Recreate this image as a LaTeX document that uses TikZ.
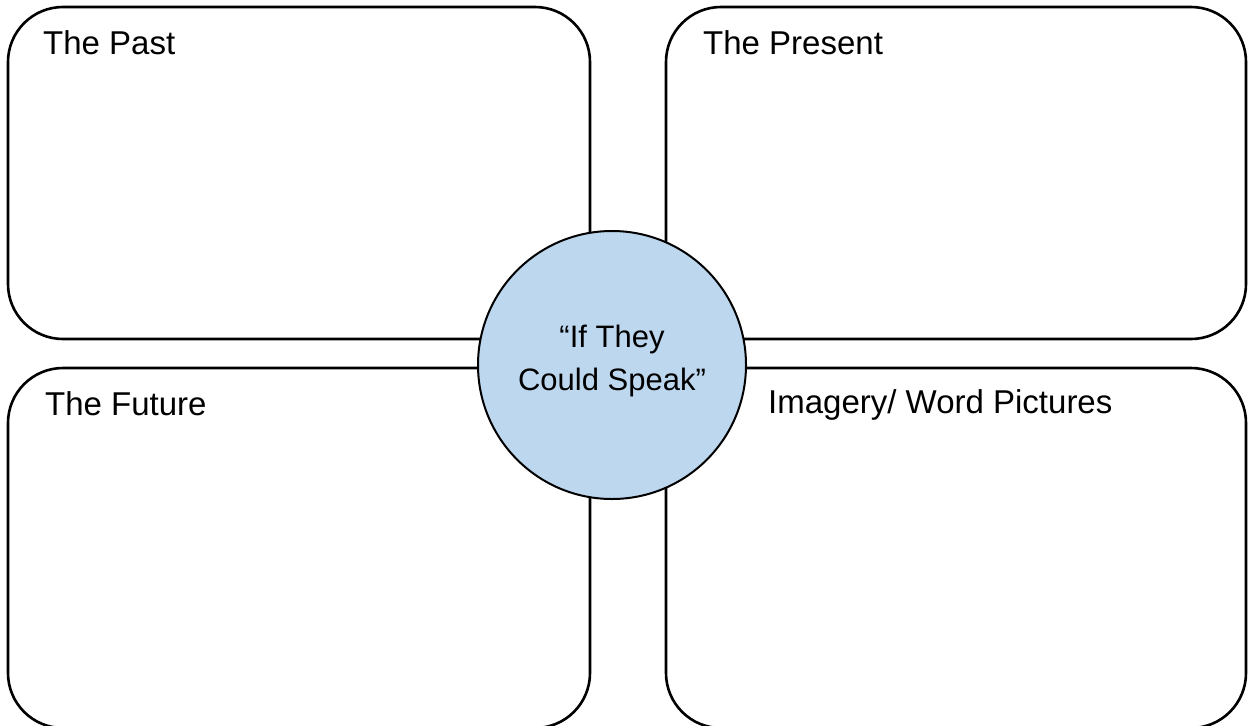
\documentclass[tikz,border=0pt]{standalone}
\usepackage{fontspec}
\setmainfont{Liberation Sans}
\definecolor{circblue}{RGB}{189,215,238}
\begin{document}
\begin{tikzpicture}[x=1pt,y=-1pt,
  panel/.style={draw=black, line width=2.6pt, rounded corners=55pt, fill=white, inner sep=0pt},
  lbl/.style={anchor=base west, inner sep=0pt, font=\fontsize{33}{39}\selectfont},
  hub/.style={circle, draw=black, line width=2pt, fill=circblue, minimum size=268pt, inner sep=0pt},
  hubtext/.style={align=center, inner sep=0pt, font=\fontsize{31}{43}\selectfont}]
\useasboundingbox (0,0) rectangle (1249,725);
\node[panel, minimum width=582pt, minimum height=332pt] (past) at (299,173) {};
\node[panel, minimum width=580pt, minimum height=332pt] (present) at (956,173) {};
\node[panel, minimum width=582pt, minimum height=360pt] (future) at (299,548) {};
\node[panel, minimum width=580pt, minimum height=360pt] (imagery) at (956,548) {};
\node[hub] (hub) at (612,365) {};
\node[hubtext, anchor=base] (hubtxt) at (612,390) {“If They\\Could Speak”};
\node[lbl] (tpast) at (43,55) {The Past};
\node[lbl] (tpresent) at (703,55) {The Present};
\node[lbl] (tfuture) at (45,415) {The Future};
\node[lbl] (timagery) at (768,413) {Imagery/ Word Pictures};
\end{tikzpicture}
\end{document}
